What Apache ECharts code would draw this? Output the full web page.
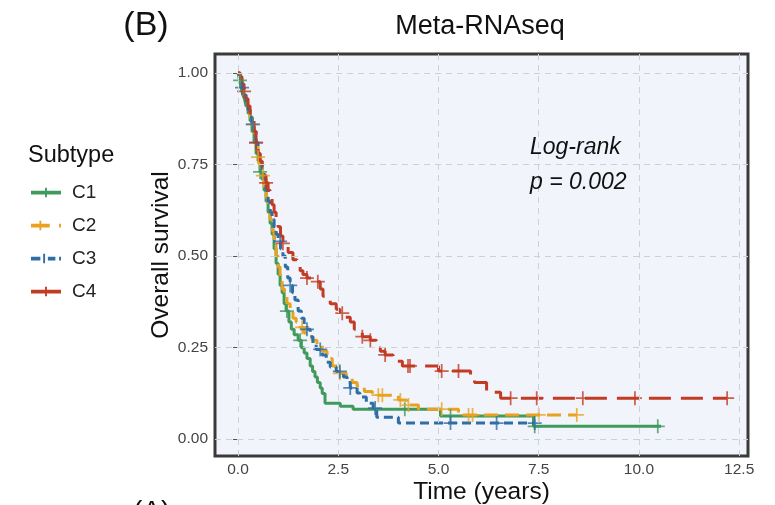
<!DOCTYPE html>
<html>
<head>
<meta charset="utf-8">
<script src="https://cdn.jsdelivr.net/npm/echarts@6/dist/echarts.min.js"></script>
<style>
  html, body { margin: 0; padding: 0; background: #fff; }
  #main { width: 775px; height: 505px; }
</style>
</head>
<body>
<div id="main"></div>
<script>
// Kaplan-Meier steps: [time (years), survival]
var c1Steps = [[0,1],[0.04,0.98],[0.08,0.96],[0.12,0.94],[0.16,0.93],[0.2,0.91],[0.25,0.89],[0.3,0.87],[0.35,0.84],[0.4,0.81],[0.45,0.78],[0.5,0.76],[0.55,0.73],[0.6,0.71],[0.65,0.68],[0.7,0.65],[0.75,0.62],[0.8,0.59],[0.85,0.56],[0.9,0.52],[0.95,0.48],[1.0,0.45],[1.05,0.42],[1.1,0.40],[1.15,0.37],[1.2,0.35],[1.27,0.32],[1.33,0.30],[1.4,0.285],[1.5,0.27],[1.58,0.25],[1.65,0.235],[1.72,0.22],[1.8,0.2],[1.86,0.185],[1.92,0.17],[1.98,0.155],[2.05,0.14],[2.1,0.125],[2.17,0.098],[2.55,0.09],[2.87,0.082],[5.05,0.063],[7.37,0.035],[10.55,0.035]];
var c2Steps = [[0,1],[0.05,0.98],[0.1,0.96],[0.15,0.94],[0.2,0.92],[0.25,0.9],[0.3,0.88],[0.35,0.86],[0.4,0.83],[0.45,0.8],[0.5,0.77],[0.55,0.74],[0.6,0.72],[0.65,0.69],[0.7,0.66],[0.75,0.63],[0.8,0.6],[0.85,0.57],[0.9,0.53],[0.95,0.5],[1.0,0.47],[1.05,0.44],[1.1,0.41],[1.16,0.39],[1.22,0.37],[1.3,0.35],[1.37,0.33],[1.45,0.32],[1.55,0.305],[1.65,0.29],[1.75,0.28],[1.85,0.27],[1.97,0.255],[2.1,0.24],[2.22,0.22],[2.35,0.2],[2.54,0.18],[2.7,0.165],[2.85,0.155],[2.97,0.145],[3.15,0.13],[3.35,0.12],[4.0,0.107],[4.2,0.093],[4.5,0.082],[5.5,0.066],[8.45,0.066]];
var c3Steps = [[0,1],[0.05,0.98],[0.1,0.96],[0.15,0.94],[0.2,0.92],[0.25,0.9],[0.3,0.88],[0.35,0.86],[0.4,0.84],[0.45,0.81],[0.5,0.78],[0.55,0.76],[0.6,0.73],[0.65,0.71],[0.7,0.68],[0.75,0.65],[0.8,0.62],[0.85,0.6],[0.9,0.58],[0.95,0.56],[1.0,0.54],[1.06,0.52],[1.12,0.5],[1.18,0.47],[1.24,0.44],[1.3,0.42],[1.36,0.4],[1.42,0.38],[1.5,0.35],[1.58,0.33],[1.65,0.31],[1.72,0.30],[1.8,0.28],[1.87,0.26],[1.95,0.245],[2.1,0.23],[2.2,0.21],[2.3,0.197],[2.45,0.185],[2.63,0.17],[2.72,0.155],[2.8,0.14],[2.97,0.126],[3.04,0.115],[3.2,0.098],[3.37,0.085],[3.46,0.06],[4.0,0.044],[7.4,0.044]];
var c4Steps = [[0,1],[0.05,0.99],[0.1,0.97],[0.15,0.95],[0.2,0.93],[0.25,0.91],[0.3,0.89],[0.35,0.87],[0.4,0.84],[0.45,0.81],[0.5,0.78],[0.55,0.76],[0.6,0.74],[0.65,0.72],[0.7,0.7],[0.75,0.68],[0.8,0.66],[0.85,0.64],[0.9,0.62],[0.95,0.6],[1.0,0.58],[1.06,0.555],[1.12,0.535],[1.25,0.51],[1.37,0.49],[1.47,0.475],[1.55,0.46],[1.62,0.45],[1.72,0.44],[1.97,0.43],[2.05,0.41],[2.12,0.39],[2.22,0.38],[2.3,0.37],[2.45,0.355],[2.54,0.344],[2.65,0.333],[2.8,0.32],[2.9,0.3],[3.1,0.28],[3.3,0.27],[3.45,0.25],[3.55,0.24],[3.67,0.23],[3.87,0.213],[4.1,0.2],[5.0,0.186],[5.8,0.17],[5.9,0.155],[6.2,0.128],[6.55,0.112],[12.2,0.112]];

// censoring times
var c1Censor = [0.05, 0.55, 1.22, 1.55, 4.16, 5.3, 7.4, 10.47];
var c2Censor = [0.37, 0.5, 0.62, 1.6, 2.54, 3.5, 3.6, 4.05, 4.25, 5.08, 5.75, 5.85, 7.5, 8.45];
var c3Censor = [0.1, 0.37, 0.45, 1.05, 1.3, 1.72, 2.05, 2.54, 2.8, 3.42, 5.3, 6.45, 7.4];
var c4Censor = [0.15, 0.45, 0.7, 1.12, 1.72, 1.99, 2.6, 3.1, 3.3, 3.67, 4.24, 4.29, 5.08, 5.5, 6.8, 7.45, 8.6, 9.9, 12.2];

var subtypes = ['C1', 'C2', 'C3', 'C4'];
var colors = ['#3f9a5c', '#e8a21f', '#2e6da5', '#c23b23'];
var dashes = ['solid', [14, 7], [9, 5], [22, 10]];
var xTicks = [0, 2.5, 5, 7.5, 10, 12.5];
var yTicks = [0, 0.25, 0.5, 0.75, 1];

var plusPath = 'path://M0,7H7V0H9V7H16V9H9V16H7V9H0Z';

function survAt(steps, t) {
  var s = 1;
  for (var i = 0; i < steps.length; i++) {
    if (steps[i][0] <= t) s = steps[i][1];
  }
  return s;
}

function censorPoints(steps, times) {
  return times.map(function (t) { return [t, survAt(steps, t)]; });
}

var allSteps = [c1Steps, c2Steps, c3Steps, c4Steps];
var allCensor = [c1Censor, c2Censor, c3Censor, c4Censor];

var series = [{
  name: 'grid',
  type: 'line',
  data: [],
  z: 1,
  silent: true,
  markLine: {
    silent: true,
    symbol: 'none',
    label: { show: false },
    lineStyle: { color: '#cdd0d4', type: [6, 5], width: 1 },
    data: xTicks.map(function (v) { return { xAxis: v }; })
      .concat(yTicks.map(function (v) { return { yAxis: v }; }))
  }
}];

subtypes.forEach(function (name, i) {
  series.push({
    name: name,
    type: 'line',
    step: 'end',
    showSymbol: false,
    symbol: 'none',
    z: 3,
    data: allSteps[i],
    lineStyle: { color: colors[i], width: 3, type: dashes[i] },
    itemStyle: { color: colors[i] }
  });
  series.push({
    name: name + ' censor',
    type: 'scatter',
    symbol: plusPath,
    symbolSize: 14,
    z: 4,
    data: censorPoints(allSteps[i], allCensor[i]),
    itemStyle: { color: colors[i] }
  });
});

var legendIcons = [
  'path://M0,3H32V7H0Z M15,0H17V10H15Z',
  'path://M0,3H20V7H0Z M9,0H11V10H9Z M30,3H32V7H30Z',
  'path://M0,3H10V7H0Z M13,0H15V10H13Z M18,3H26V7H18Z M30,3H32V7H30Z',
  'path://M0,3H32V7H0Z M15,0H17V10H15Z'
];

var option = {
  animation: false,
  grid: {
    left: 215, top: 54, width: 533, height: 402,
    outerBoundsMode: 'none',
    containLabel: false,
    show: true,
    backgroundColor: '#f1f4fa',
    borderColor: '#3a3a3a',
    borderWidth: 3
  },
  legend: {
    orient: 'vertical',
    left: 26,
    top: 178,
    itemWidth: 30,
    itemHeight: 11,
    itemGap: 14,
    textStyle: { fontSize: 19, color: '#222', fontFamily: 'Liberation Sans', padding: [0, 0, 0, 6] },
    data: subtypes.map(function (n, i) { return { name: n, icon: legendIcons[i] }; })
  },
  xAxis: {
    type: 'value',
    min: -0.574,
    max: 12.72,
    name: 'Time (years)',
    nameLocation: 'middle',
    nameGap: 24,
    nameMoveOverlap: false,
    nameTextStyle: { fontSize: 24.5, color: '#111', fontFamily: 'Liberation Sans' },
    axisLine: { show: false },
    splitLine: { show: false },
    axisTick: { show: true, length: 5, customValues: xTicks, lineStyle: { color: '#555' } },
    axisLabel: {
      customValues: xTicks,
      fontSize: 15.5,
      color: '#444',
      fontFamily: 'Liberation Sans',
      margin: 6,
      formatter: function (v) { return v.toFixed(1); }
    }
  },
  yAxis: {
    type: 'value',
    min: -0.046,
    max: 1.052,
    name: 'Overall survival',
    nameLocation: 'middle',
    nameGap: 41,
    nameMoveOverlap: false,
    nameTextStyle: { fontSize: 24.5, color: '#111', fontFamily: 'Liberation Sans' },
    axisLine: { show: false },
    splitLine: { show: false },
    axisTick: { show: true, length: 5, customValues: yTicks, lineStyle: { color: '#555' } },
    axisLabel: {
      customValues: yTicks,
      fontSize: 15.5,
      color: '#444',
      fontFamily: 'Liberation Sans',
      margin: 7,
      formatter: function (v) { return v.toFixed(2); }
    }
  },
  graphic: [
    { type: 'text', style: { x: 146, y: 26, text: '(B)', fontSize: 34, fill: '#111', fontFamily: 'Liberation Sans', textAlign: 'center', textVerticalAlign: 'middle' } },
    { type: 'text', style: { x: 480, y: 27, text: 'Meta-RNAseq', fontSize: 27, fill: '#111', fontFamily: 'Liberation Sans', textAlign: 'center', textVerticalAlign: 'middle' } },
    { type: 'text', style: { x: 28, y: 156, text: 'Subtype', fontSize: 23.5, fill: '#111', fontFamily: 'Liberation Sans', textVerticalAlign: 'middle' } },
    { type: 'text', z: 10, style: { x: 530, y: 148, text: 'Log-rank', fontSize: 23, fontStyle: 'italic', fill: '#111', fontFamily: 'Liberation Sans', textVerticalAlign: 'middle' } },
    { type: 'text', z: 10, style: { x: 530, y: 183, text: 'p = 0.002', fontSize: 23, fontStyle: 'italic', fill: '#111', fontFamily: 'Liberation Sans', textVerticalAlign: 'middle' } },
    { type: 'text', style: { x: 133, y: 498, text: '(A)', fontSize: 28, fill: '#111', fontFamily: 'Liberation Sans' } }
  ],
  series: series
};

var myChart = echarts.init(document.getElementById('main'));
myChart.setOption(option);
</script>
</body>
</html>
